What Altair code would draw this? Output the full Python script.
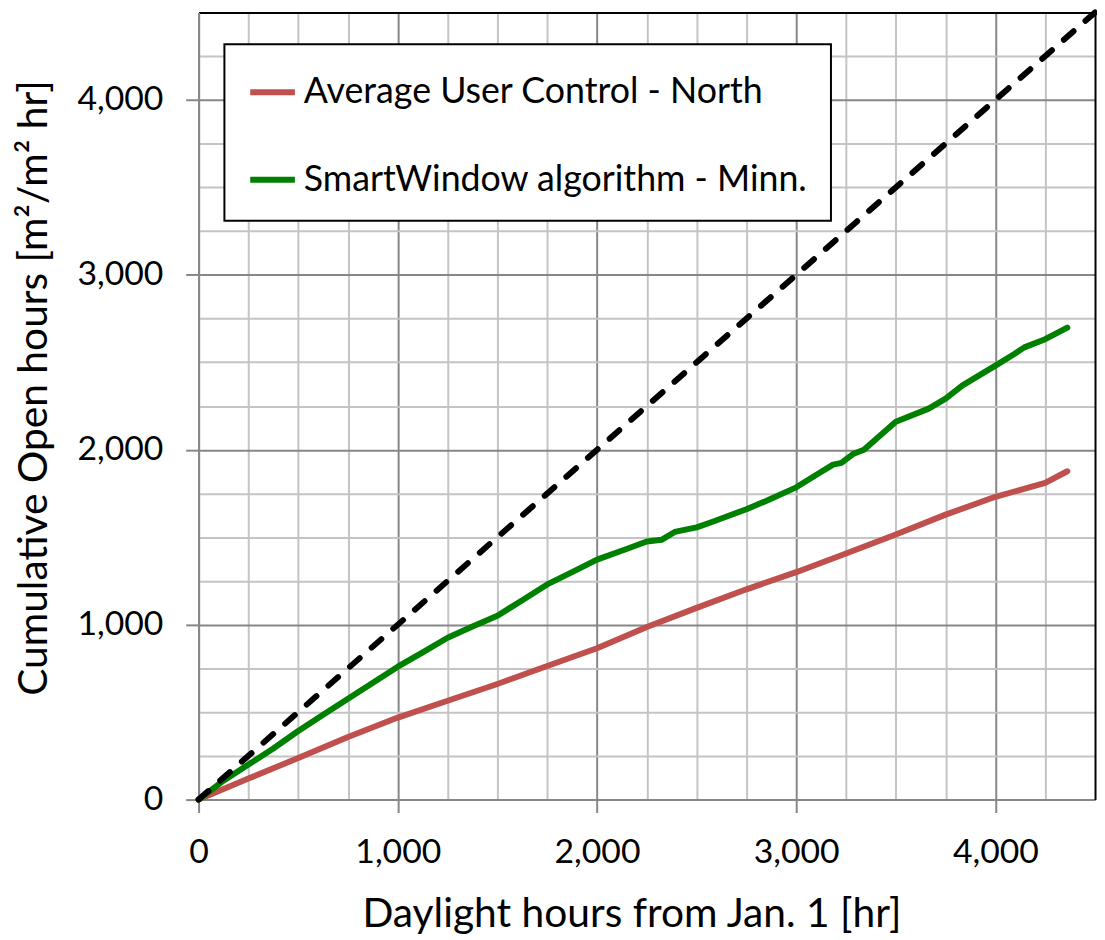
import altair as alt
import pandas as pd

SERIES_NAMES = ["Average User Control - North", "SmartWindow algorithm - Minn."]
SERIES_COLORS = ["#C0504D", "#008000"]

# Average User Control - North
user_hours = [0, 250, 500, 750, 1000, 1250, 1500, 1750, 2000, 2250, 2500,
              2750, 3000, 3250, 3500, 3750, 4000, 4250, 4361]
user_open = [0, 120, 238, 358, 469, 565, 661, 764, 865, 987, 1096,
             1202, 1300, 1407, 1515, 1629, 1731, 1810, 1877]

# SmartWindow algorithm - Minn.
smart_hours = [0, 125, 250, 375, 500, 625, 750, 875, 1000, 1125, 1250, 1375,
               1500, 1625, 1750, 1875, 2000, 2155, 2250, 2324, 2390, 2500,
               2570, 2750, 2857, 3000, 3120, 3185, 3227, 3285, 3340, 3450,
               3500, 3665, 3750, 3835, 4000, 4095, 4145, 4250, 4361]
smart_open = [0, 108, 200, 292, 392, 485, 576, 668, 760, 842, 925, 990,
              1051, 1140, 1230, 1300, 1372, 1435, 1475, 1485, 1530, 1556,
              1584, 1660, 1711, 1785, 1870, 1915, 1925, 1975, 2000, 2110,
              2160, 2235, 2292, 2368, 2481, 2547, 2585, 2632, 2698]

# reference line (y = x)
diag_hours = [0, 4500]
diag_open = [0, 4500]

grid_values = [0, 250, 500, 750, 1000, 1250, 1500, 1750, 2000, 2250, 2500,
               2750, 3000, 3250, 3500, 3750, 4000, 4250]

FONT = "Lato"
MAJOR = "datum.value % 1000 === 0"

df = pd.concat([
    pd.DataFrame({"hours": user_hours, "open": user_open, "series": SERIES_NAMES[0]}),
    pd.DataFrame({"hours": smart_hours, "open": smart_open, "series": SERIES_NAMES[1]}),
])
df_diag = pd.DataFrame({"hours": diag_hours, "open": diag_open})

x_scale = alt.Scale(domain=[0, 4500], nice=False, zero=False)
y_scale = alt.Scale(domain=[0, 4500], nice=False, zero=False)

common_axis = dict(
    values=grid_values,
    grid=True,
    gridColor={"condition": {"test": MAJOR, "value": "#878787"}, "value": "#C4C4C4"},
    gridWidth=2,
    gridOpacity=1,
    tickOpacity={"condition": {"test": MAJOR, "value": 1}, "value": 0},
    tickColor="#878787",
    tickWidth=2,
    tickSize=13,
    domainColor="#878787",
    domainWidth=2,
    labelExpr="(datum.value % 1000 === 0) ? format(datum.value, ',') : ''",
    labelFont=FONT,
    labelFontSize=34,
    labelColor="black",
    labelPadding=23,
    titleFont=FONT,
    titleFontSize=41,
    titleFontWeight="normal",
    titleColor="black",
    labelOverlap=False,
    labelFlush=False,
)

x_axis = alt.Axis(
    title="Daylight hours from Jan. 1 [hr]",
    titleX=436, titleY=128, titleAlign="center", titleBaseline="alphabetic",
    **common_axis,
)
y_axis = alt.Axis(
    title="Cumulative Open hours [m²/m² hr]",
    titleX=-165, titleY=378, titleAlign="center", titleBaseline="middle",
    titleAngle=-90,
    **common_axis,
)

lines = alt.Chart(df).mark_line(strokeWidth=6, strokeCap="round", strokeJoin="round").encode(
    x=alt.X("hours:Q", scale=x_scale, axis=x_axis),
    y=alt.Y("open:Q", scale=y_scale, axis=y_axis),
    color=alt.Color(
        "series:N",
        scale=alt.Scale(domain=SERIES_NAMES, range=SERIES_COLORS),
        legend=alt.Legend(
            title=None,
            orient="none",
            legendX=26,
            legendY=32,
            direction="vertical",
            fillColor="white",
            strokeColor="black",
            padding=23,
            rowPadding=44,
            symbolType="stroke",
            symbolStrokeWidth=6,
            symbolSize=2025,
            labelOffset=6,
            labelFont=FONT,
            labelFontSize=36,
            labelColor="black",
            labelLimit=1000,
        ),
    ),
    order=alt.Order("hours:Q"),
)

border_axis = dict(labels=False, ticks=False, grid=False, domainColor="black",
                   domainWidth=2, title=None)

diag = alt.Chart(df_diag).mark_line(
    color="black", strokeWidth=6, strokeDash=[13, 16], strokeCap="round"
).encode(
    x=alt.X("hours:Q", scale=x_scale, axis=alt.Axis(orient="top", **border_axis)),
    y=alt.Y("open:Q", scale=y_scale, axis=alt.Axis(orient="right", **border_axis)),
)

chart = alt.layer(lines, diag).resolve_axis(x="independent", y="independent").properties(
    width=903,
    height=793,
    padding={"left": 192, "top": 1, "right": 2, "bottom": 137},
    autosize=alt.AutoSizeParams(type="none"),
).configure_view(stroke=None).configure_legend(strokeWidth=2, cornerRadius=0)

chart.save("out.html", embed_options={"renderer": "svg", "actions": False})
